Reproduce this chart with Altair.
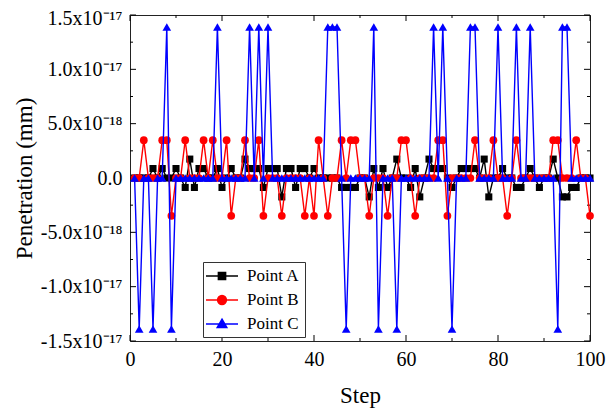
import altair as alt
import pandas as pd

# ---- data (values in units of 1e-18 mm) ----
steps = list(range(1, 101))
point_a = [0, 0, 0, 0, 0.87, 0, 0.87, 0, 0, 0.87,
           0, -0.87, 1.74, -0.87, 0.87, 0.87, 0, 0, 0.87, -0.87,
           0, 0.87, 0, 0, 1.74, 0.87, 0.87, 0.87, -0.87, 0.87,
           0.87, 0.87, -1.74, 0.87, 0.87, -0.87, 0.87, 0.87, 0, 0.87,
           0, 0, 0, 0, 0, -0.87, -0.87, -0.87, -0.87, 0,
           0, -1.74, 0.87, -0.87, 0.87, -0.87, 0, 1.74, 0, 0,
           -0.87, 0.87, -1.74, 0, 1.74, 0.87, 0.87, 0.87, 0, -0.87,
           0, 0.87, 0.87, 0.87, 0.87, 0, 1.74, -1.74, 0, 0,
           0.87, 0, 0, -0.87, -0.87, 0, 0.87, 0, -0.87, 0,
           0, 1.74, 0, -1.74, -1.74, -0.87, -0.87, 0, 0, 0]
point_b = [0, 0, 3.48, 0, 0, 0, 3.48, 3.48, -3.48, 0,
           0, 3.48, 0, 0, 0, 3.48, 0, 3.48, 0, 0,
           3.48, -3.48, 0, 0, 3.48, 0, 0, 3.48, -3.48, 0,
           0, 0, -3.48, 0, 0, 0, 0, -3.48, 0, -3.48,
           3.48, 0, -3.48, 0, 0, 3.48, 0, 3.48, 3.48, 0,
           0, -3.48, 0, 0, 0, -3.48, 0, 0, 3.48, 3.48,
           0, -3.48, 0, 0, 0, 0, 3.48, 3.48, -3.48, 0,
           0, 0, 0, 0, 3.48, 0, 0, 0, 3.48, 0,
           0, -3.48, 0, 3.48, 0, 0, 0, 0, 0, 0,
           0, 3.48, 3.48, 0, 0, 0, 3.48, 0, 0, -3.48]
point_c = [0, -13.9, 0, 0, -13.9, 0, 0, 13.9, -13.9, 0,
           0, 0, 0, 0, 0, 0, 0, 0, 13.9, 0,
           0, 0, 0, 0, 0, 13.9, 0, 13.9, 0, 13.9,
           0, 0, 0, 0, 0, 0, 0, 0, 0, 0,
           0, 0, 13.9, 13.9, 13.9, 0, -13.9, 0, 0, 0,
           0, 0, 13.9, -13.9, 0, 0, 0, -13.9, 0, 0,
           0, 0, 0, 0, 0, 13.9, 0, 13.9, 0, -13.9,
           0, 0, 0, 13.9, 13.9, 0, 0, 0, 0, 13.9,
           0, 0, 0, 13.9, 0, 0, 13.9, 0, 0, 0,
           0, 0, -13.9, 13.9, 13.9, 0, 0, 0, 0, 0]

series_names = ["Point A", "Point B", "Point C"]
series_colors = ["#000000", "#ff0000", "#0000ff"]
series_shapes = ["square", "circle", "triangle-up"]
series_sizes = [50, 60, 75]

x_major = [0, 20, 40, 60, 80, 100]
x_minor = [10, 30, 50, 70, 90]
y_major = [-15, -10, -5, 0, 5, 10, 15]
y_minor = [-12.5, -7.5, -2.5, 2.5, 7.5, 12.5]
y_labels = ["-1.5x10⁻¹⁷", "-1.0x10⁻¹⁷", "-5.0x10⁻¹⁸", "0.0",
            "5.0x10⁻¹⁸", "1.0x10⁻¹⁷", "1.5x10⁻¹⁷"]

# legend symbols: line + marker (custom paths)
legend_paths = [
    "M-2,0H2M-0.45,-0.45H0.45V0.45H-0.45Z",
    "M-2,0H2M-0.55,0A0.55,0.55,0,1,0,0.55,0A0.55,0.55,0,1,0,-0.55,0Z",
    "M-2,0H2M0,-0.6L0.6,0.45H-0.6Z",
]

W, H = 460, 326
FONT = "Liberation Serif"

label_expr = "[" + ",".join("'%s'" % s for s in y_labels) + "][round(datum.value/5)+3]"

xscale = alt.Scale(domain=[0, 100], nice=False, zero=False)
yscale = alt.Scale(domain=[-15, 15], nice=False, zero=False)
xaxis = alt.Axis(values=x_major, title="Step", labelPadding=8, titlePadding=15,
                 labelFontSize=20, titleFontSize=23, labelFlush=False,
                 labelFont=FONT, titleFont=FONT)
yaxis = alt.Axis(values=y_major, title="Penetration (mm)", labelExpr=label_expr,
                 labelPadding=8, titlePadding=4, labelFontSize=20, titleFontSize=23,
                 labelFlush=False, labelFont=FONT, titleFont=FONT,
                 labelOffset={"condition": {"test": "datum.value >= 15", "value": 3},
                              "value": 0})

frames = []
for name, vals in zip(series_names, [point_a, point_b, point_c]):
    frames.append(pd.DataFrame({"step": steps, "value": vals, "series": name}))
df = pd.concat(frames, ignore_index=True)

layers = []

# inward ticks on all four sides
tx = pd.DataFrame({"t": x_major + x_minor,
                   "len": [6] * len(x_major) + [3] * len(x_minor)})
ty = pd.DataFrame({"t": y_major + y_minor,
                   "len": [6] * len(y_major) + [3] * len(y_minor)})
X_t = alt.X("t:Q", scale=xscale, axis=xaxis)
Y_t = alt.Y("t:Q", scale=yscale, axis=yaxis)
for L in [6, 3]:
    fx = tx[tx["len"] == L]
    fy = ty[ty["len"] == L]
    layers.append(alt.Chart(fx).mark_rule(color="black", strokeWidth=1).encode(
        x=X_t, y=alt.value(H), y2=alt.value(H - L)))
    layers.append(alt.Chart(fx).mark_rule(color="black", strokeWidth=1).encode(
        x=X_t, y=alt.value(0), y2=alt.value(L)))
    layers.append(alt.Chart(fy).mark_rule(color="black", strokeWidth=1).encode(
        y=Y_t, x=alt.value(0), x2=alt.value(L)))
    layers.append(alt.Chart(fy).mark_rule(color="black", strokeWidth=1).encode(
        y=Y_t, x=alt.value(W - L), x2=alt.value(W)))

X = alt.X("step:Q", scale=xscale, axis=xaxis)
Y = alt.Y("value:Q", scale=yscale, axis=yaxis)

for name, col, shp, sz in zip(series_names, series_colors, series_shapes, series_sizes):
    base = alt.Chart(df).transform_filter(alt.datum.series == name)
    layers.append(base.mark_line(color=col, strokeWidth=1.4).encode(x=X, y=Y))
    layers.append(base.mark_point(shape=shp, filled=True, color=col, size=sz,
                                  opacity=1).encode(x=X, y=Y))

leg = alt.Legend(orient="none", legendX=73, legendY=247, title=None,
                 labelFont=FONT, labelFontSize=17, labelColor="black",
                 symbolSize=256, symbolStrokeWidth=1.5, symbolOpacity=1,
                 symbolOffset=5, labelOffset=16, rowPadding=7,
                 padding=5, strokeColor="#333333", fillColor="white")
legend_df = pd.DataFrame({"series": series_names})
legend_layer = alt.Chart(legend_df).transform_filter("datum.series == 'none'").mark_point(
    filled=True).encode(
    fill=alt.Fill("series:N", scale=alt.Scale(domain=series_names, range=series_colors), legend=leg),
    stroke=alt.Stroke("series:N", scale=alt.Scale(domain=series_names, range=series_colors), legend=leg),
    shape=alt.Shape("series:N", scale=alt.Scale(domain=series_names, range=legend_paths), legend=leg),
)
layers.append(legend_layer)

chart = alt.layer(*layers).properties(
    width=W, height=H,
    autosize=alt.AutoSizeParams(type="none"),
    padding={"left": 122, "top": 7, "right": 16, "bottom": 72},
    background="white",
).configure_view(
    stroke="#222222", strokeWidth=1
).configure_axis(
    labelFont=FONT, titleFont=FONT, labelColor="black", titleColor="black",
    titleFontWeight="normal", ticks=False, domain=False, grid=False,
).configure_text(font=FONT)

chart.save("out.html", embed_options={"renderer": "svg", "actions": False})
